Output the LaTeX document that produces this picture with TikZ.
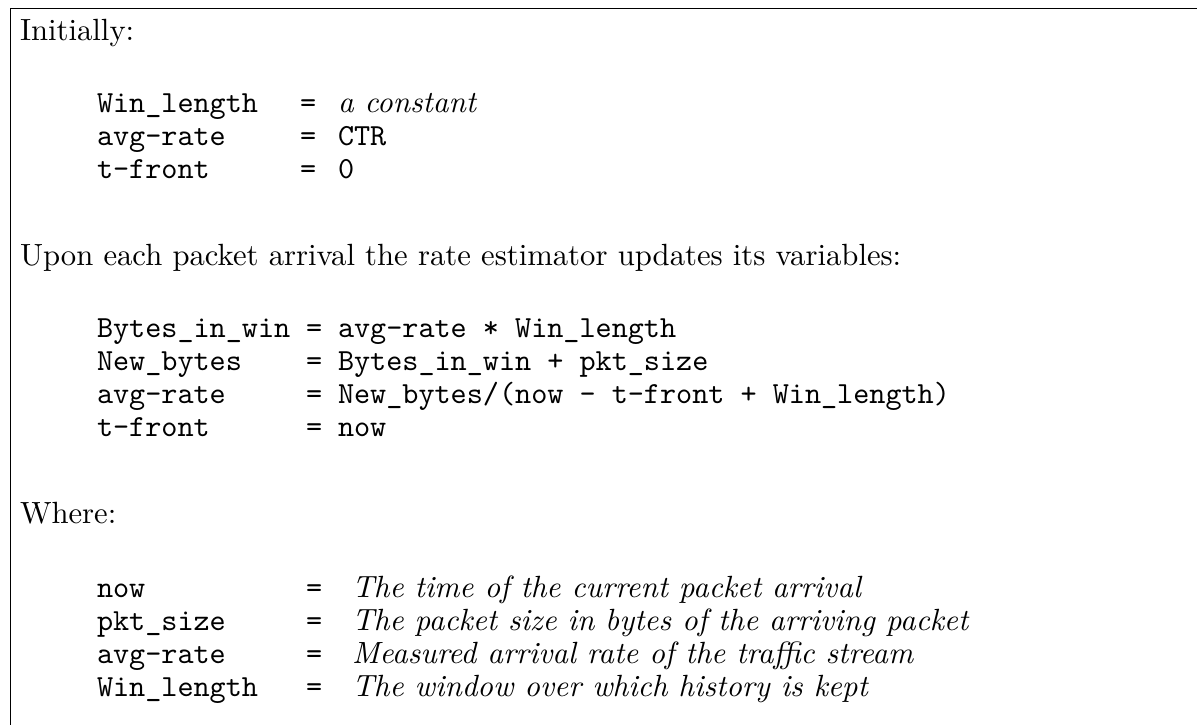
\documentclass[tikz,border=0pt]{standalone}
\begin{document}
\begin{tikzpicture}[x=0.326pt,y=-0.326pt,
  every node/.style={anchor=base west, inner sep=0pt, outer sep=0pt},
  txt/.style={font=\fontsize{10}{12}\selectfont},
  code/.style={font=\fontsize{10}{12}\selectfont\ttfamily},
  desc/.style={font=\fontsize{10}{12}\selectfont\itshape},
  frame/.style={draw=black, line width=0.55pt}]
\useasboundingbox (0,0) rectangle (1197,725);
% open frame: top and left edges only
\coordinate (tr) at (1197,8.5);
\coordinate (tl) at (10.5,8.5);
\coordinate (bl) at (10.5,725);
\draw[frame] (tr) -- (tl) -- (bl);

% column positions
\def\cx{97}
\def\ex{306}
\def\vx{338}

% initial values
\node[txt] (init) at (20,40) {Initially:};
\node[code] (i1n) at (\cx,112) {Win\_length};
\node[code] (i1e) at (300,112) {=};
\node[desc] (i1v) at (\vx,112) {a constant};
\node[code] (i2n) at (\cx,145) {avg-rate};
\node[code] (i2e) at (300,145) {=};
\node[code] (i2v) at (\vx,145) {CTR};
\node[code] (i3n) at (\cx,178) {t-front};
\node[code] (i3e) at (300,178) {=};
\node[code] (i3v) at (\vx,178) {0};

% update rule
\node[txt] (upd) at (20,265) {Upon each packet arrival the rate estimator updates its variables:};
\node[code] (u1n) at (\cx,337) {Bytes\_in\_win};
\node[code] (u1e) at (\ex,337) {=};
\node[code] (u1v) at (\vx,337) {avg-rate * Win\_length};
\node[code] (u2n) at (\cx,370) {New\_bytes};
\node[code] (u2e) at (\ex,370) {=};
\node[code] (u2v) at (\vx,370) {Bytes\_in\_win + pkt\_size};
\node[code] (u3n) at (\cx,403) {avg-rate};
\node[code] (u3e) at (\ex,403) {=};
\node[code] (u3v) at (\vx,403) {New\_bytes/(now - t-front + Win\_length)};
\node[code] (u4n) at (\cx,436) {t-front};
\node[code] (u4e) at (\ex,436) {=};
\node[code] (u4v) at (\vx,436) {now};

% definitions
\def\dx{352}
\node[txt] (where) at (20,523) {Where:};
\node[code] (w1n) at (\cx,597) {now};
\node[code] (w1e) at (\ex,597) {=};
\node[desc] (w1v) at (\dx,597) {The time of the current packet arrival};
\node[code] (w2n) at (\cx,630) {pkt\_size};
\node[code] (w2e) at (\ex,630) {=};
\node[desc] (w2v) at (\dx,630) {The packet size in bytes of the arriving packet};
\node[code] (w3n) at (\cx,663) {avg-rate};
\node[code] (w3e) at (\ex,663) {=};
\node[desc] (w3v) at (\dx,663) {Measured arrival rate of the traffic stream};
\node[code] (w4n) at (\cx,696) {Win\_length};
\node[code] (w4e) at (\ex,696) {=};
\node[desc] (w4v) at (\dx,696) {The window over which history is kept};
\end{tikzpicture}
\end{document}
